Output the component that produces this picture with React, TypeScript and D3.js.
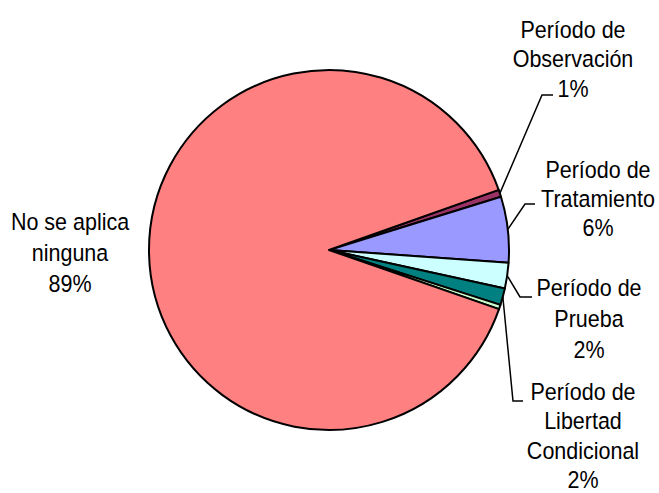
import React from "react";
import * as d3 from "d3";

// ---- data ----
const categories = [
  "Período de Observación",
  "Período de Tratamiento",
  "Período de Prueba",
  "Período de Libertad Condicional",
  "Otro",
  "No se aplica ninguna",
];
const values = [0.64, 5.9, 2.3, 1.5, 0.4, 89.2];
const labelLines = [
  ["Período de", "Observación"],
  ["Período de", "Tratamiento"],
  ["Período de", "Prueba"],
  ["Período de", "Libertad", "Condicional"],
  [],
  ["No se aplica", "ninguna"],
];
const colors = ["#993366", "#9999FF", "#CCFFFF", "#008080", "#CCFFCC", "#FF8080"];

// ---- layout ----
const W = 659;
const H = 493;
const cx = 329;
const cy = 250;
const R = 180;
const startDeg = 70.5;
const FONT = "'Liberation Sans', Arial, sans-serif";
const FS = 21.5;
const SY = 1.08;
// label anchor: text center x, first baseline y, line height, leader elbow and end
const labelLayout = [
  { x: 573, y: 37.5, lh: 29.7, elbow: [542, 95], end: [553, 95] },
  { x: 598, y: 177.5, lh: 29.2, elbow: [525, 204], end: [535, 204] },
  { x: 589, y: 295.5, lh: 31, elbow: [520, 297], end: [532, 297] },
  { x: 583, y: 400, lh: 29.3, elbow: [513, 401], end: [523, 401] },
  null,
  { x: 70, y: 229.5, lh: 31, elbow: null, end: null },
];

export default function App() {
  const total = d3.sum(values);
  const pie = d3
    .pie<number>()
    .sort(null)
    .value((d) => d)
    .startAngle((startDeg * Math.PI) / 180)
    .endAngle((startDeg * Math.PI) / 180 + 2 * Math.PI);
  const arcs = pie(values);
  const arc = d3.arc<d3.PieArcDatum<number>>().innerRadius(0).outerRadius(R);

  return (
    <svg
      width={W}
      height={H}
      style={{ position: "absolute", left: 0, top: 0, background: "#fff" }}
    >
      <g transform={`translate(${cx},${cy})`}>
        {arcs.map((a, i) => (
          <path
            key={i}
            d={arc(a) || ""}
            fill={colors[i]}
            stroke="#000"
            strokeWidth={2}
            strokeLinejoin="round"
          />
        ))}
      </g>
      {arcs.map((a, i) => {
        const lay = labelLayout[i];
        if (!lay) return null;
        const mid = (a.startAngle + a.endAngle) / 2;
        const sx = cx + Math.sin(mid) * R;
        const sy = cy - Math.cos(mid) * R;
        const pct = Math.round((values[i] / total) * 100) + "%";
        const lines = [...labelLines[i], pct];
        return (
          <g key={"l" + i}>
            {lay.elbow && lay.end && (
              <polyline
                points={`${sx},${sy} ${lay.elbow[0]},${lay.elbow[1]} ${lay.end[0]},${lay.end[1]}`}
                fill="none"
                stroke="#000"
                strokeWidth={1.5}
              />
            )}
            {lines.map((t, j) => (
              <text
                key={j}
                transform={`translate(${lay.x},${lay.y + j * lay.lh}) scale(1,${SY})`}
                fontFamily={FONT}
                fontSize={FS}
                textAnchor="middle"
                fill="#000"
              >
                {t}
              </text>
            ))}
          </g>
        );
      })}
    </svg>
  );
}
